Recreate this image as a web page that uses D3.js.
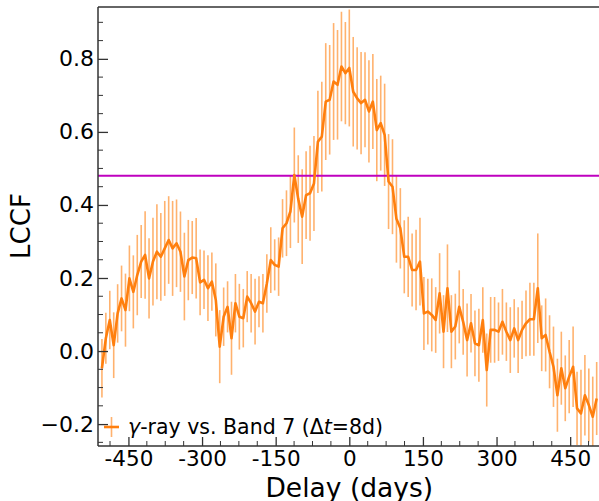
<!DOCTYPE html>
<html>
<head>
<meta charset="utf-8">
<title>LCCF</title>
<style>
  body { margin: 0; background: #fff; }
  svg { display: block; font-family: "DejaVu Sans", sans-serif; }
</style>
</head>
<body>
<script src="https://d3js.org/d3.v7.min.js"></script>
<script>
// delay grid (days), dt = 8d
const delays = [-504,-496,-488,-480,-472,-464,-456,-448,-440,-432,-424,-416,-408,-400,-392,-384,
  -376,-368,-360,-352,-344,-336,-328,-320,-312,-304,-296,-288,-280,-272,-264,-256,-248,-240,
  -232,-224,-216,-208,-200,-192,-184,-176,-168,-160,-152,-144,-136,-128,-120,-112,-104,-96,
  -88,-80,-72,-64,-56,-48,-40,-32,-24,-16,-8,0,8,16,24,32,40,48,56,64,72,80,88,96,104,112,
  120,128,136,144,152,160,168,176,184,192,200,208,216,224,232,240,248,256,264,272,280,288,
  296,304,312,320,328,336,344,352,360,368,376,384,392,400,408,416,424,432,440,448,456,464,
  472,480,488,496,504];

const lccf = [-0.047,0.035,0.085,0.016,0.103,0.144,0.112,0.199,0.162,0.208,0.245,0.263,0.199,0.245,
  0.272,0.258,0.281,0.304,0.281,0.295,0.272,0.204,0.249,0.256,0.254,0.188,0.195,0.172,0.19,0.14,
  0.012,0.094,0.121,0.035,0.131,0.094,0.09,0.149,0.131,0.108,0.135,0.131,0.185,0.249,0.236,0.231,
  0.336,0.35,0.382,0.482,0.416,0.368,0.427,0.432,0.459,0.573,0.587,0.683,0.688,0.738,0.729,0.779,
  0.761,0.775,0.71,0.692,0.679,0.688,0.656,0.683,0.605,0.624,0.592,0.464,0.45,0.362,0.336,0.258,
  0.258,0.222,0.222,0.245,0.103,0.108,0.099,0.085,0.158,0.053,0.172,0.053,0.067,0.121,0.08,0.03,
  0.076,0.021,0.016,0.085,-0.052,0.058,0.058,0.053,0.08,0.053,0.03,0.062,0.03,0.058,0.076,0.087,
  0.087,0.172,0.035,0.044,-0.002,-0.043,-0.121,-0.047,-0.102,-0.07,-0.043,-0.157,-0.171,-0.121,
  -0.148,-0.18,-0.13];

const lccfErr = [0.08,0.07,0.08,0.09,0.08,0.09,0.1,0.09,0.1,0.11,0.1,0.12,0.11,0.12,0.13,0.12,0.13,
  0.12,0.13,0.12,0.11,0.12,0.11,0.1,0.11,
  0.09,0.08,0.09,0.08,0.1,0.1,0.08,0.07,0.1,0.08,0.09,0.08,0.07,0.08,0.09,0.07,0.08,0.08,0.09,0.07,
  0.08,0.08,0.09,0.1,0.13,
  0.12,0.13,0.12,0.13,0.13,0.14,0.15,0.16,0.15,0.16,0.15,0.15,0.14,0.16,0.15,0.14,0.14,0.13,0.14,
  0.13,0.14,0.13,0.14,0.13,0.13,
  0.12,0.11,0.1,0.11,0.1,0.11,0.12,0.1,0.09,0.1,0.09,0.11,0.1,0.12,0.1,0.09,0.1,0.09,0.1,0.08,
  0.09,0.1,0.09,0.1,0.09,
  0.09,0.08,0.09,0.08,0.09,0.08,0.09,0.08,0.09,0.1,0.1,0.15,0.09,0.1,0.1,0.11,0.1,0.1,0.09,0.1,
  0.11,0.1,0.12,0.11,0.1,0.11,0.1];

const threshold = 0.48;
const xTicks = [-450, -300, -150, 0, 150, 300, 450];
const yTicks = [-0.2, 0.0, 0.2, 0.4, 0.6, 0.8];
const legendLabel = "Band 7";

const W = 599, H = 501;
const pLeft = 98, pTop = 7, pBottom = 446, pRight = 600.6;

const x = d3.scaleLinear().domain([-512, 512]).range([pLeft, pRight]);
const y = d3.scaleLinear().domain([-0.26, 0.942]).range([pBottom, pTop]);

const svg = d3.select("body").append("svg")
    .attr("width", W).attr("height", H);

svg.append("clipPath").attr("id", "plot")
  .append("rect").attr("x", pLeft).attr("y", pTop)
  .attr("width", pRight - pLeft).attr("height", pBottom - pTop);

const pts = delays.map((d, i) => ({d: d, v: lccf[i], e: lccfErr[i]}));
const orange = "#ff7f0e";

const plot = svg.append("g").attr("clip-path", "url(#plot)");

// error bars
plot.selectAll("line.err")
  .data(pts)
  .enter().append("line")
    .attr("class", "err")
    .attr("x1", p => x(p.d)).attr("x2", p => x(p.d))
    .attr("y1", p => y(p.v - p.e)).attr("y2", p => y(p.v + p.e))
    .attr("stroke", orange).attr("stroke-width", 1.6)
    .attr("stroke-opacity", 0.6);

// threshold
plot.append("line")
  .attr("x1", pLeft).attr("x2", pRight)
  .attr("y1", y(threshold)).attr("y2", y(threshold))
  .attr("stroke", "#bf00bf").attr("stroke-width", 2.2);

// lccf curve
plot.append("path")
  .datum(pts)
  .attr("fill", "none")
  .attr("stroke", orange)
  .attr("stroke-width", 2.6)
  .attr("stroke-linejoin", "round")
  .attr("d", d3.line().x(p => x(p.d)).y(p => y(p.v)));

// axes, ticks pointing inward
const tickCol = "#333";
const xMinor = d3.range(-487.5, 512, 37.5).filter(t => !xTicks.includes(t));
const yMinor = d3.range(-0.25, 0.95, 0.05).map(t => +t.toFixed(2))
  .filter(t => !yTicks.some(m => Math.abs(m - t) < 1e-6));

const xAxis = svg.append("g").attr("transform", "translate(0," + pBottom + ")")
  .call(d3.axisBottom(x).tickValues(xTicks).tickSize(-9).tickPadding(5)
    .tickFormat(d => String(d)));
xAxis.select(".domain").remove();
xAxis.selectAll(".tick line").attr("stroke", tickCol).attr("stroke-width", 1.3);
xAxis.selectAll(".tick text").attr("font-size", 21.5).attr("fill", "#000")
  .attr("font-family", "DejaVu Sans");

svg.append("g").selectAll("line").data(xMinor).enter().append("line")
  .attr("x1", d => x(d)).attr("x2", d => x(d))
  .attr("y1", pBottom).attr("y2", pBottom - 5)
  .attr("stroke", tickCol).attr("stroke-width", 1);

const yAxis = svg.append("g").attr("transform", "translate(" + pLeft + ",0)")
  .call(d3.axisLeft(y).tickValues(yTicks).tickSize(-10).tickPadding(4)
    .tickFormat(d => d3.format(".1f")(d).replace("-", "\u2212")));
yAxis.select(".domain").remove();
yAxis.selectAll(".tick line").attr("stroke", tickCol).attr("stroke-width", 1.3);
yAxis.selectAll(".tick text").attr("font-size", 22).attr("fill", "#000")
  .attr("font-family", "DejaVu Sans");

svg.append("g").selectAll("line").data(yMinor).enter().append("line")
  .attr("x1", pLeft).attr("x2", pLeft + 5)
  .attr("y1", d => y(d)).attr("y2", d => y(d))
  .attr("stroke", tickCol).attr("stroke-width", 1);

// spines
svg.append("line").attr("x1", pLeft).attr("x2", pLeft).attr("y1", pTop).attr("y2", pBottom)
  .attr("stroke", tickCol).attr("stroke-width", 1.5);
svg.append("line").attr("x1", pLeft).attr("x2", pRight).attr("y1", pBottom).attr("y2", pBottom)
  .attr("stroke", tickCol).attr("stroke-width", 1.5);
svg.append("line").attr("x1", pLeft).attr("x2", pRight).attr("y1", pTop).attr("y2", pTop)
  .attr("stroke", tickCol).attr("stroke-width", 1.5);

// axis labels
svg.append("text")
  .attr("x", x(0)).attr("y", 496.5)
  .attr("text-anchor", "middle").attr("font-size", 26.5)
  .text("Delay (days)");

svg.append("text")
  .attr("transform", "translate(30,226) rotate(-90)")
  .attr("text-anchor", "middle").attr("font-size", 26)
  .text("LCCF");

// legend
const lg = svg.append("g");
lg.append("line").attr("x1", 104).attr("x2", 119).attr("y1", 427).attr("y2", 427)
  .attr("stroke", orange).attr("stroke-width", 2.6);
lg.append("line").attr("x1", 111.5).attr("x2", 111.5).attr("y1", 417).attr("y2", 437)
  .attr("stroke", orange).attr("stroke-width", 1.6).attr("stroke-opacity", 0.6);
const lt = lg.append("text").attr("x", 128).attr("y", 434).attr("font-size", 20.5);
lt.append("tspan").attr("font-style", "italic").text("\u03b3");
lt.append("tspan").text("-ray vs. " + legendLabel + " (\u0394");
lt.append("tspan").attr("font-style", "italic").text("t");
lt.append("tspan").text("=8d)");
</script>
</body>
</html>
